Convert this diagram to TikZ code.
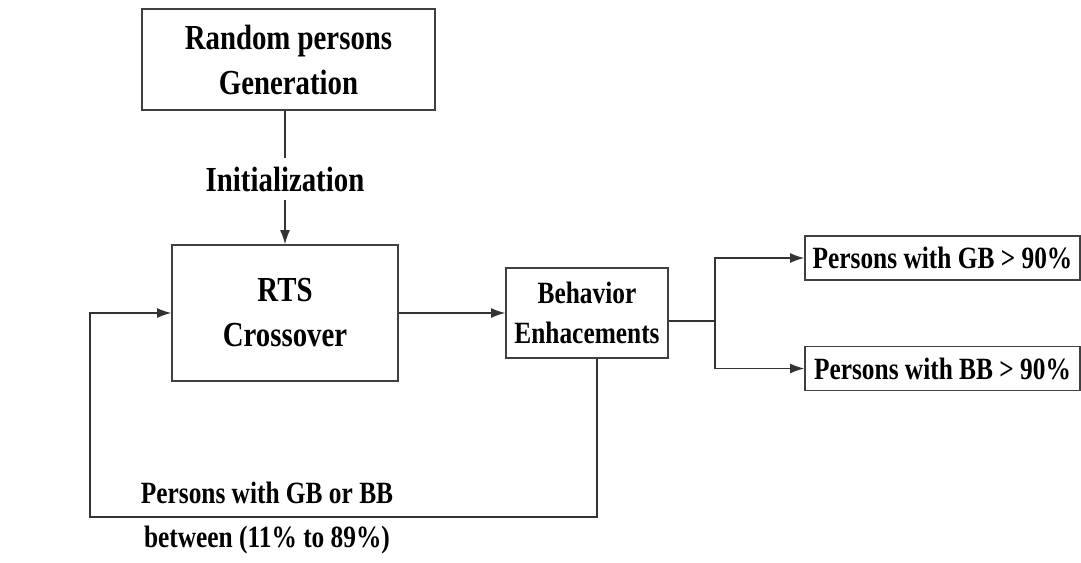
\documentclass[tikz,border=0pt]{standalone}
\usepackage{fontspec}
\setmainfont{Liberation Serif}[FakeStretch=0.82]
\usetikzlibrary{arrows.meta}

\begin{document}
\begin{tikzpicture}[x=0.025cm,y=-0.025cm,
    box/.style={draw=black!75,line width=1pt,align=center,inner sep=0pt},
    big/.style={font=\fontsize{25}{32}\selectfont\bfseries},
    small/.style={font=\fontsize{22}{28}\selectfont\bfseries},
    link/.style={black!80,line width=0.9pt},
    arr/.style={link,-{Latex[length=10pt,width=7pt]}}]
  \useasboundingbox (0,0) rectangle (1081,562);
  \node[box,big,minimum width=7.33cm,minimum height=2.52cm] (rand) at (288.5,59.5) {Random persons\\Generation};
  \node[big,inner xsep=0pt,inner ysep=0.22cm] (init) at (285,179) {Initialization};
  \node[box,big,minimum width=5.65cm,minimum height=3.4cm] (rts) at (285,313) {RTS\\Crossover};
  \node[box,small,minimum width=4.05cm,minimum height=2.25cm] (beh) at (587,313) {Behavior\\Enhacements};
  \node[box,small,minimum width=6.875cm,minimum height=1.1cm] (gb) at (942.5,258) {Persons with GB > 90\%};
  \node[box,small,minimum width=6.875cm,minimum height=1.1cm] (bb) at (942.5,368.5) {Persons with BB > 90\%};
  \node[small,align=center] (loop) at (267,518) {Persons with GB or BB\\[3pt]between (11\% to 89\%)};
  \coordinate (split) at (715,321);
  \coordinate (back) at (90,517);
  \draw[link] (init.north) -- (init.north |- rand.south);
  \draw[arr] (init.south) -- (rts.north);
  \draw[arr] (rts.east) -- (beh.west);
  \draw[link] (beh.east |- split) -- (split);
  \draw[arr] (split) |- (gb.west);
  \draw[arr] (split) |- (bb.west);
  \draw[arr] (beh.south -| 597,0) |- (back) |- (rts.west);
\end{tikzpicture}
\end{document}
